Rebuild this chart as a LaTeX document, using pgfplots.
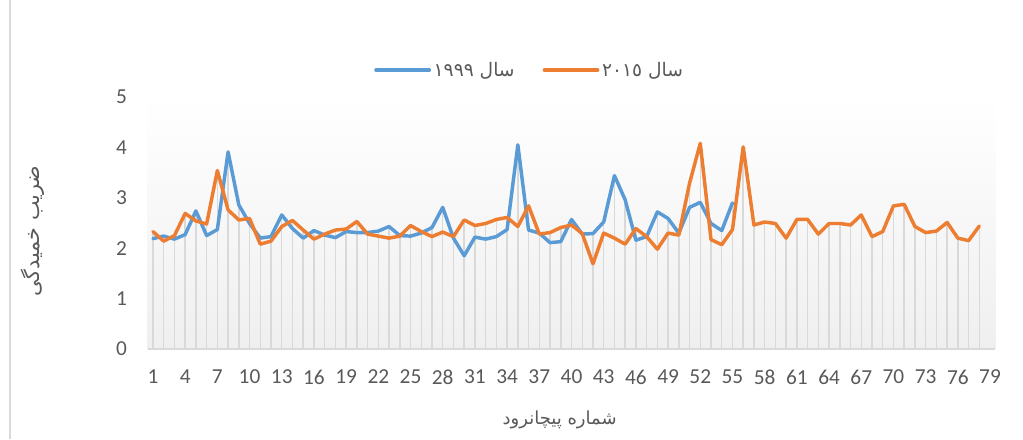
\documentclass[border=0pt]{standalone}
\usepackage{fontspec}
\setmainfont{Carlito}
\newfontfamily\arabicfont[Script=Arabic]{DejaVu Sans}
\TeXXeTstate=1
\usepackage{pgfplots}
\pgfplotsset{compat=1.18}
\usepackage{pgfplotstable}

\definecolor{seriesblue}{HTML}{5B9BD5}
\definecolor{seriesorange}{HTML}{ED7D31}
\definecolor{ticktext}{HTML}{595959}
\definecolor{dropgray}{HTML}{D9D9D9}

% year 1999 (meanders 1-55)
\pgfplotstableread{
x y
1 2.19
2 2.24
3 2.18
4 2.27
5 2.74
6 2.25
7 2.37
8 3.91
9 2.86
10 2.49
11 2.20
12 2.23
13 2.66
14 2.39
15 2.20
16 2.35
17 2.26
18 2.21
19 2.33
20 2.31
21 2.31
22 2.34
23 2.43
24 2.25
25 2.24
26 2.30
27 2.41
28 2.81
29 2.20
30 1.85
31 2.22
32 2.18
33 2.23
34 2.37
35 4.05
36 2.36
37 2.30
38 2.11
39 2.13
40 2.57
41 2.28
42 2.29
43 2.52
44 3.44
45 2.96
46 2.16
47 2.23
48 2.72
49 2.59
50 2.30
51 2.81
52 2.91
53 2.49
54 2.35
55 2.90
}\blueyear

% year 2015 (meanders 1-78)
\pgfplotstableread{
x y
1 2.33
2 2.14
3 2.25
4 2.69
5 2.54
6 2.48
7 3.54
8 2.76
9 2.56
10 2.59
11 2.08
12 2.14
13 2.43
14 2.55
15 2.36
16 2.18
17 2.28
18 2.36
19 2.38
20 2.53
21 2.28
22 2.24
23 2.20
24 2.24
25 2.45
26 2.33
27 2.23
28 2.32
29 2.23
30 2.56
31 2.45
32 2.49
33 2.57
34 2.61
35 2.43
36 2.84
37 2.28
38 2.31
39 2.41
40 2.46
41 2.29
42 1.69
43 2.30
44 2.20
45 2.08
46 2.39
47 2.23
48 1.98
49 2.30
50 2.26
51 3.29
52 4.08
53 2.17
54 2.07
55 2.37
56 4.01
57 2.46
58 2.52
59 2.49
60 2.20
61 2.57
62 2.57
63 2.28
64 2.49
65 2.49
66 2.46
67 2.66
68 2.23
69 2.33
70 2.84
71 2.87
72 2.43
73 2.31
74 2.34
75 2.51
76 2.20
77 2.15
78 2.44
}\orangeyear

\begin{document}
\begin{tikzpicture}
% chart area edge
\draw[dropgray, line width=1.1pt] (7.5pt,0pt) -- (7.5pt,329.25pt);
\begin{axis}[
  at={(110.7pt,67.5pt)}, anchor=south west,
  width=635.85pt, height=189pt, scale only axis,
  xmin=0.5, xmax=79.5, ymin=0, ymax=5,
  xtick={1,4,...,79}, ytick={0,1,...,5},
  axis x line*=bottom, axis y line*=left,
  x axis line style={draw=dropgray, line width=1.1pt},
  y axis line style={draw=none},
  major tick length=0pt,
  /pgf/number format/assume math mode=true,
  tick label style={font=\fontsize{16}{18}\selectfont, text=ticktext},
  xticklabel style={yshift=-12pt},
  yticklabel style={xshift=-12pt},
  axis background/.style={shade, top color=white, bottom color={rgb,255:red,239;green,239;blue,239}},
  every axis x label/.style={at={(axis description cs:0.486,0)}, anchor=center, yshift=-53pt},
  every axis y label/.style={at={(axis description cs:-0.136,0.468)}, anchor=center, rotate=90},
  xlabel={\arabicfont\fontsize{13.5}{15}\selectfont\color{ticktext}\beginR شماره پیچانرود\endR},
  ylabel={\arabicfont\fontsize{15.5}{17}\selectfont\color{ticktext}\beginR ضریب خمیدگی\endR},
  legend columns=2,
  legend style={draw=none, fill=none, at={(0.451,1.107)}, anchor=center,
    font=\arabicfont\fontsize{14}{16}\selectfont, text=ticktext,
    /tikz/every even column/.append style={column sep=19pt}},
  legend image code/.code={\draw[#1, line cap=round] (0pt,0pt) -- (40pt,0pt);},
]
% drop lines
\addplot[dropgray, line width=1.1pt, ycomb, forget plot] table {\orangeyear};
\addplot[dropgray, line width=1.1pt, ycomb, forget plot] table {\blueyear};
% series
\addplot[seriesblue, line width=2.6pt, line join=round, line cap=round] table {\blueyear};
\addlegendentry{\beginR سال \beginL١٩٩٩\endL\endR}
\addplot[seriesorange, line width=2.6pt, line join=round, line cap=round] table {\orangeyear};
\addlegendentry{\beginR سال \beginL٢٠١٥\endL\endR}
\end{axis}
\pgfresetboundingbox
\path[use as bounding box] (0pt,0pt) rectangle (767.25pt,329.25pt);
\end{tikzpicture}
\end{document}
